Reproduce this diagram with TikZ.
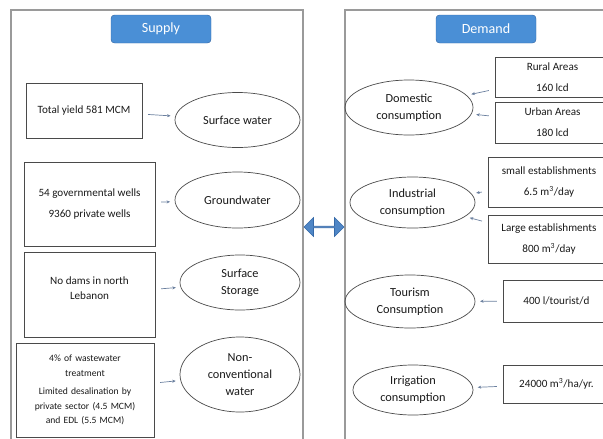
\documentclass[tikz,border=0pt]{standalone}
\usepackage{fontspec}
\setmainfont{Carlito}
\usepackage{xcolor}
\usepackage{tikz}
\usetikzlibrary{positioning, arrows.meta, shapes.geometric, shapes.arrows}
\definecolor{panel-gray}{HTML}{9A9A9A}
\definecolor{box-dark}{HTML}{4A4A4A}
\definecolor{head-blue}{HTML}{4A8FD6}
\definecolor{head-edge}{HTML}{3569A8}
\definecolor{link-blue}{HTML}{4F86C6}
\definecolor{conn-gray}{HTML}{6A7F9E}

\begin{document}
\begin{tikzpicture}[
    x=0.03cm, y=-0.03cm,
    panel/.style={draw=panel-gray, line width=1.6pt},
    header/.style={draw=head-edge, fill=head-blue, rounded corners=3pt, text=white,
        font=\fontsize{12}{14}\selectfont, minimum width=100*\pxu, minimum height=28*\pxu},
    sbox/.style={draw=box-dark, line width=0.6pt, align=center, inner sep=2pt,
        font=\fontsize{9.5}{13}\selectfont, text=black!90},
    sell/.style={ellipse, draw=box-dark, line width=0.6pt, align=center, inner sep=0pt,
        font=\fontsize{10.5}{14.5}\selectfont, text=black!90},
    conn/.style={-{Stealth[length=3pt, width=2.6pt]}, draw=conn-gray, line width=0.6pt,
        shorten <=5pt, shorten >=4pt},
]
    \def\pxu{0.03cm}
    \useasboundingbox (0,0) rectangle (603,439);

    % Panels
    \draw[panel] (11,10) rectangle (303,445);
    \draw[panel] (345,10) rectangle (612,445);

    % Headers
    \node[header] (supply) at (161,29) {Supply};
    \node[header] (demand) at (486,29) {Demand};

    % Supply side: sources
    \node[sbox, minimum width=116*\pxu, minimum height=55*\pxu] (yield) at (84,110.5)
        {Total yield 581 MCM};
    \node[sbox, minimum width=131*\pxu, minimum height=84*\pxu] (wells) at (89.5,204)
        {54 governmental wells\\[5pt]9360 private wells};
    \node[sbox, minimum width=131*\pxu, minimum height=85*\pxu, text depth=11pt] (dams) at (89.5,294.5)
        {No dams in north\\Lebanon};
    \node[sbox, minimum width=138*\pxu, minimum height=94*\pxu, text width=124*\pxu,
          font=\fontsize{8.2}{12.5}\selectfont] (waste) at (85,390)
        {4\% of wastewater\\treatment\\[3pt]Limited desalination by private sector (4.5 MCM) and EDL (5.5 MCM)};

    \node[sell, minimum width=125*\pxu, minimum height=55*\pxu] (surface) at (237.5,120) {Surface water};
    \node[sell, minimum width=125*\pxu, minimum height=56*\pxu] (ground) at (237.5,200) {Groundwater};
    \node[sell, minimum width=120*\pxu, minimum height=55*\pxu] (storage) at (240,282.5) {Surface\\Storage};
    \node[sell, minimum width=120*\pxu, minimum height=75*\pxu] (nonconv) at (240,374.5)
        {Non-\\conventional\\water};

    \foreach \src/\dst in {yield/surface, wells/ground, dams/storage, waste/nonconv}
        \draw[conn] (\src) -- (\dst);

    % Link between panels
    \node[double arrow, double arrow head extend=3pt, fill=link-blue, draw=head-edge, line width=0.5pt,
          minimum height=40*\pxu, minimum width=19*\pxu, inner sep=0pt] (link) at (324,227) {};

    % Demand side: uses
    \node[sell, minimum width=128*\pxu, minimum height=55*\pxu] (domestic) at (409,107.5) {Domestic\\consumption};
    \node[sell, minimum width=125*\pxu, minimum height=51*\pxu] (industry) at (412.5,202.5) {Industrial\\consumption};
    \node[sell, minimum width=130*\pxu, minimum height=53*\pxu] (tourism) at (410,301.5) {Tourism\\Consumption};
    \node[sell, minimum width=120*\pxu, minimum height=50*\pxu] (irrig) at (413,390) {Irrigation\\consumption};

    \node[sbox, minimum width=115*\pxu, minimum height=40*\pxu] (rural) at (552.5,77)
        {Rural Areas\\[5pt]160 lcd};
    \node[sbox, minimum width=115*\pxu, minimum height=41*\pxu] (urban) at (552.5,122.5)
        {Urban Areas\\[5pt]180 lcd};
    \node[sbox, minimum width=122*\pxu, minimum height=50*\pxu] (small) at (549,182)
        {small establishments\\[5pt]6.5 m\textsuperscript{3}/day};
    \node[sbox, minimum width=122*\pxu, minimum height=48*\pxu] (large) at (549,239)
        {Large establishments\\[5pt]800 m\textsuperscript{3}/day};
    \node[sbox, minimum width=107*\pxu, minimum height=42*\pxu] (tourist) at (556.5,301)
        {400 l/tourist/d};
    \node[sbox, minimum width=107*\pxu, minimum height=38*\pxu] (hectare) at (556.5,384)
        {24000 m\textsuperscript{3}/ha/yr.};

    \foreach \src/\dst in {rural/domestic, urban/domestic, small/industry, large/industry,
                           tourist/tourism, hectare/irrig}
        \draw[conn] (\src) -- (\dst);

\end{tikzpicture}
\end{document}
